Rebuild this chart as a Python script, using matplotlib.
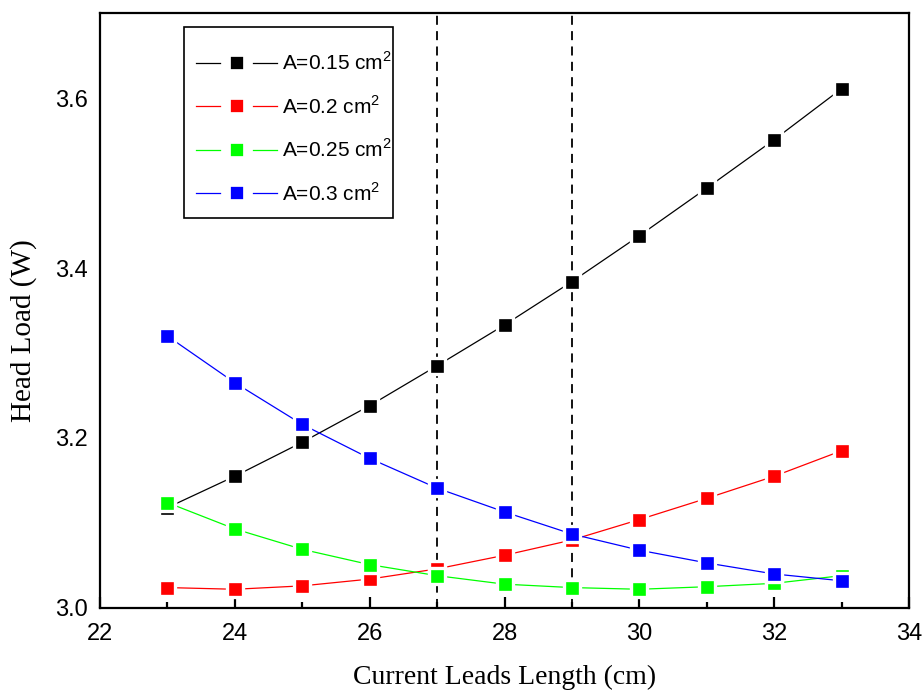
import matplotlib
matplotlib.use('Agg')
import matplotlib.pyplot as plt
from matplotlib.lines import Line2D
from matplotlib.patches import Rectangle
from matplotlib.ticker import MultipleLocator

plt.rcParams['font.family'] = ['Liberation Sans', 'DejaVu Sans']
plt.rcParams['mathtext.fontset'] = 'custom'
plt.rcParams['mathtext.rm'] = 'Liberation Sans'

# current leads length (cm)
lengths = [23, 24, 25, 26, 27, 28, 29, 30, 31, 32, 33]

# head load (W) for each cross-section area
load_015 = [3.118, 3.155, 3.195, 3.238, 3.285, 3.333, 3.384, 3.438, 3.494, 3.551, 3.611]
load_020 = [3.024, 3.022, 3.026, 3.034, 3.046, 3.062, 3.080, 3.104, 3.129, 3.155, 3.185]
load_025 = [3.124, 3.093, 3.069, 3.051, 3.038, 3.028, 3.024, 3.022, 3.025, 3.029, 3.038]
load_030 = [3.320, 3.265, 3.216, 3.176, 3.141, 3.113, 3.087, 3.068, 3.053, 3.040, 3.032]

series = [
    (load_015, '#000000', 'A=0.15 cm$^2$'),
    (load_020, '#ff0000', 'A=0.2 cm$^2$'),
    (load_025, '#00ff00', 'A=0.25 cm$^2$'),
    (load_030, '#0000ff', 'A=0.3 cm$^2$'),
]

# chosen lengths marked with dashed lines
marked_lengths = [27, 29]

fig = plt.figure(figsize=(9.24, 6.93), dpi=100)
ax = fig.add_axes([0.1082, 0.1227, 0.8756, 0.8585])

for xv in marked_lengths:
    ax.axvline(xv, color='black', linestyle=(0, (5, 3.5)), linewidth=1.3, zorder=1)

handles = []
for values, color, label in series:
    ax.plot(lengths, values, color=color, linewidth=0.9, marker='s',
            markersize=11, markerfacecolor=color, markeredgecolor='white',
            markeredgewidth=2.4, zorder=3)
    # legend proxy: wider white rim so the line stops short of the marker
    handles.append(Line2D([], [], color=color, linewidth=0.9, marker='s',
                          markersize=16, markerfacecolor=color,
                          markeredgecolor='white', markeredgewidth=7,
                          label=label))

ax.set_xlim(22, 34)
ax.set_ylim(3.0, 3.7)
ax.xaxis.set_major_locator(MultipleLocator(2))
ax.xaxis.set_minor_locator(MultipleLocator(1))
ax.set_yticks([3.0, 3.2, 3.4, 3.6])
ax.set_yticklabels(['3.0', '3.2', '3.4', '3.6'])

ax.tick_params(axis='x', which='major', direction='in', length=8, width=1.6,
               labelsize=17, pad=11)
ax.tick_params(axis='x', which='minor', direction='in', length=4, width=1.6)
ax.tick_params(axis='y', which='both', length=0, labelsize=17, pad=9)

for spine in ax.spines.values():
    spine.set_linewidth(1.6)

ax.set_xlabel('Current Leads Length (cm)', family='Liberation Serif',
              fontsize=20, labelpad=14)
ax.set_ylabel('Head Load (W)', family='Liberation Serif', fontsize=21)
ax.yaxis.set_label_coords(-0.078, 0.467)

# legend frame drawn separately so the padding can differ by direction
ax.add_patch(Rectangle((0.104, 0.655), 0.258, 0.321, transform=ax.transAxes,
                       facecolor='white', edgecolor='black', linewidth=1.2,
                       zorder=4))
leg = ax.legend(handles=handles, loc='center left',
                bbox_to_anchor=(0.1187, 0.807), borderaxespad=0,
                borderpad=0, frameon=False, fontsize=15, numpoints=1,
                handlelength=3.9, handletextpad=0.25, labelspacing=1.0)
leg.set_zorder(5)

fig.savefig('out.png', dpi=100)
